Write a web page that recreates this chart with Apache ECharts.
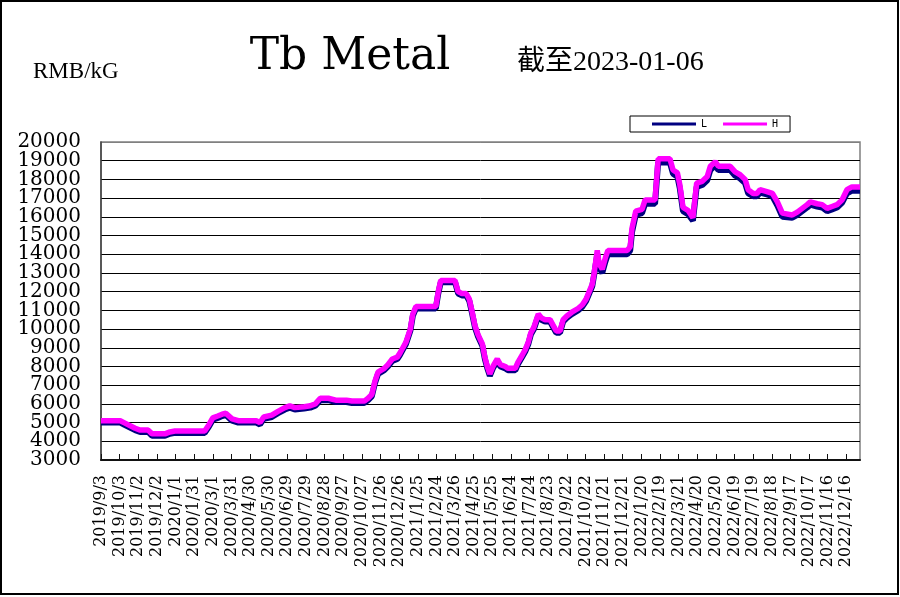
<!DOCTYPE html>
<html>
<head>
<meta charset="utf-8">
<script src="https://cdn.jsdelivr.net/npm/echarts@6/dist/echarts.min.js"></script>
<style>
html,body{margin:0;padding:0;background:#fff;}
#c{width:900px;height:597px;}
</style>
</head>
<body>
<div id="c"></div>
<script>
// x tick labels, one every 30 days starting 2019/9/3
var tickLabels = ['2019/9/3','2019/10/3','2019/11/2','2019/12/2','2020/1/1','2020/1/31','2020/3/1','2020/3/31','2020/4/30','2020/5/30','2020/6/29','2020/7/29','2020/8/28','2020/9/27','2020/10/27','2020/11/26','2020/12/26','2021/1/25','2021/2/24','2021/3/26','2021/4/25','2021/5/25','2021/6/24','2021/7/24','2021/8/23','2021/9/22','2021/10/22','2021/11/21','2021/12/21','2022/1/20','2022/2/19','2022/3/21','2022/4/20','2022/5/20','2022/6/19','2022/7/19','2022/8/18','2022/9/17','2022/10/17','2022/11/16','2022/12/16'];

// y tick labels
var yTickLabels = [20000,19000,18000,17000,16000,15000,14000,13000,12000,11000,10000,9000,8000,7000,6000,5000,4000,3000];

// days since 2019/9/3 where the price changes
var days = [0,31,37,55,63,76,82,103,111,119,167,174,180,188,195,201,211,221,250,256,262,275,285,296,304,312,327,337,345,353,366,378,395,404,424,430,436,441,446,456,462,469,477,481,486,491,498,502,507,539,543,547,570,575,581,588,593,597,602,607,614,618,622,626,631,638,643,651,655,667,671,678,683,688,692,697,704,709,715,723,728,733,739,744,750,758,768,775,781,786,791,794,799,802,807,812,816,847,852,855,861,871,876,892,897,916,921,928,932,937,945,953,959,968,976,981,989,994,1013,1021,1029,1037,1042,1050,1056,1061,1072,1081,1089,1097,1113,1121,1129,1137,1142,1153,1161,1169,1177,1185,1193,1201,1209,1222];

// H (high) price, RMB/kG
var hVals = [5100,5100,5000,4700,4600,4600,4400,4400,4500,4550,4550,4900,5250,5350,5450,5500,5200,5100,5100,5000,5300,5400,5600,5800,5900,5800,5850,5900,6000,6300,6300,6200,6200,6150,6150,6300,6500,7200,7700,7900,8100,8400,8500,8700,9000,9300,10000,10800,11200,11200,12000,12600,12600,12000,11900,11900,11600,11000,10200,9700,9200,8500,8000,7600,8000,8400,8100,8000,7900,7900,8200,8600,8900,9300,9800,10100,10800,10600,10500,10500,10200,9900,9900,10500,10700,10900,11100,11300,11600,12000,12400,13000,14200,13500,13200,13800,14200,14200,14400,15400,16300,16400,16900,16900,19100,19100,18500,18350,17700,16500,16350,15950,17800,17900,18150,18700,18950,18700,18700,18400,18250,18000,17450,17250,17250,17450,17350,17250,16800,16200,16100,16250,16450,16650,16800,16700,16650,16450,16550,16650,16900,17450,17600,17600];

// L (low) price, RMB/kG
var lVals = [5000,5000,4900,4600,4500,4500,4300,4300,4400,4450,4450,4800,5150,5250,5350,5400,5100,5000,5000,4900,5200,5300,5500,5700,5800,5700,5750,5800,5900,6200,6200,6100,6100,6050,6050,6200,6400,7100,7600,7800,8000,8300,8400,8600,8900,9200,9900,10700,11100,11100,11900,12500,12500,11900,11800,11800,11500,10900,10100,9600,9100,8400,7900,7500,7900,8300,8000,7900,7800,7800,8100,8500,8800,9200,9700,10000,10700,10500,10400,10400,10100,9800,9800,10400,10600,10800,11000,11200,11500,11900,12300,12900,14000,13300,13000,13600,14000,14000,14200,15200,16100,16200,16700,16700,18900,18900,18300,18150,17500,16300,16150,15800,17600,17700,17950,18500,18750,18500,18500,18200,18050,17800,17250,17100,17100,17300,17200,17100,16600,16000,15950,16100,16300,16500,16650,16550,16500,16300,16400,16500,16750,17250,17400,17400];

var yMin = 3000, yMax = 20000, yStep = 1000;
var xMax = 1222, xStep = 30;

var hData = days.map(function(d, i){ return [d, hVals[i]]; });
var lData = days.map(function(d, i){ return [d, lVals[i]]; });

var nSplit = (yMax - yMin) / yStep + 1;
var splitColors = [];
for (var k = 0; k < nSplit; k++) splitColors.push(k === nSplit - 1 ? '#808080' : '#000000');

var chart = echarts.init(document.getElementById('c'), null, {renderer: 'canvas'});
var baseGraphics = [
  {type: 'rect', silent: true, shape: {x: 1, y: 1, width: 897, height: 593}, style: {fill: 'none', stroke: '#000', lineWidth: 2}},
  {type: 'text', silent: true, style: {text: 'Tb Metal', x: 350, y: 58, textAlign: 'center', textVerticalAlign: 'middle', font: '44px "DejaVu Serif"', fill: '#000'}},
  {type: 'text', silent: true, style: {text: '截至2023-01-06', x: 517, y: 63, textAlign: 'left', textVerticalAlign: 'middle', font: '28px "Liberation Serif", "Noto Sans CJK SC"', fill: '#000'}},
  {type: 'text', silent: true, style: {text: 'RMB/kG', x: 33, y: 72, textAlign: 'left', textVerticalAlign: 'middle', font: '23px "Liberation Serif"', fill: '#000'}}
];
chart.setOption({
  backgroundColor: '#ffffff',
  animation: false,
  grid: {left: 101, right: 40, top: 142, bottom: 137, show: true, borderColor: '#808080', borderWidth: 1.5, backgroundColor: 'transparent'},
  legend: {
    left: 630, top: 116,
    icon: 'rect',
    itemWidth: 44, itemHeight: 3, itemGap: 16,
    padding: [2, 12, 2, 22],
    borderColor: '#000', borderWidth: 1,
    textStyle: {fontFamily: 'DejaVu Sans Mono', fontSize: 10, color: '#000', lineHeight: 12},
    data: ['L', 'H']
  },
  xAxis: {
    type: 'value', min: 0, max: xMax, interval: xStep,
    axisLine: {show: true, onZero: false, lineStyle: {color: '#111', width: 2}},
    axisTick: {show: true, inside: true, length: 6, lineStyle: {color: '#111', width: 1}},
    splitLine: {show: false},
    axisLabel: {
      rotate: 90, margin: 15, showMaxLabel: false, hideOverlap: false,
      fontFamily: 'DejaVu Serif', fontSize: 16, color: '#000',
      formatter: function(v){
        if (v % xStep !== 0) return '';
        var s = tickLabels[Math.round(v / xStep)];
        return s ? s : '';
      }
    }
  },
  yAxis: {
    type: 'value', min: yMin, max: yMax, interval: yStep,
    axisLine: {show: true, lineStyle: {color: '#404040', width: 1.5}},
    axisTick: {show: false},
    splitLine: {show: true, lineStyle: {color: splitColors, width: 1}},
    axisLabel: {show: false}
  },
  series: [
    {name: 'L', type: 'line', data: lData, symbol: 'none', color: '#000080', lineStyle: {color: '#000080', width: 6}, z: 2},
    {name: 'H', type: 'line', data: hData, symbol: 'none', color: '#FF00FF', lineStyle: {color: '#FF00FF', width: 5.5}, z: 3}
  ],
  graphic: baseGraphics
});

// y-axis tick labels positioned through the axis scale
var yLabelGraphics = yTickLabels.map(function(v){
  var py = chart.convertToPixel({yAxisIndex: 0}, v);
  return {type: 'text', silent: true, style: {text: String(v), x: 81, y: py, textAlign: 'right', textVerticalAlign: 'middle', font: '20px "DejaVu Serif"', fill: '#000'}};
});
chart.setOption({graphic: baseGraphics.concat(yLabelGraphics)});
</script>
</body>
</html>
